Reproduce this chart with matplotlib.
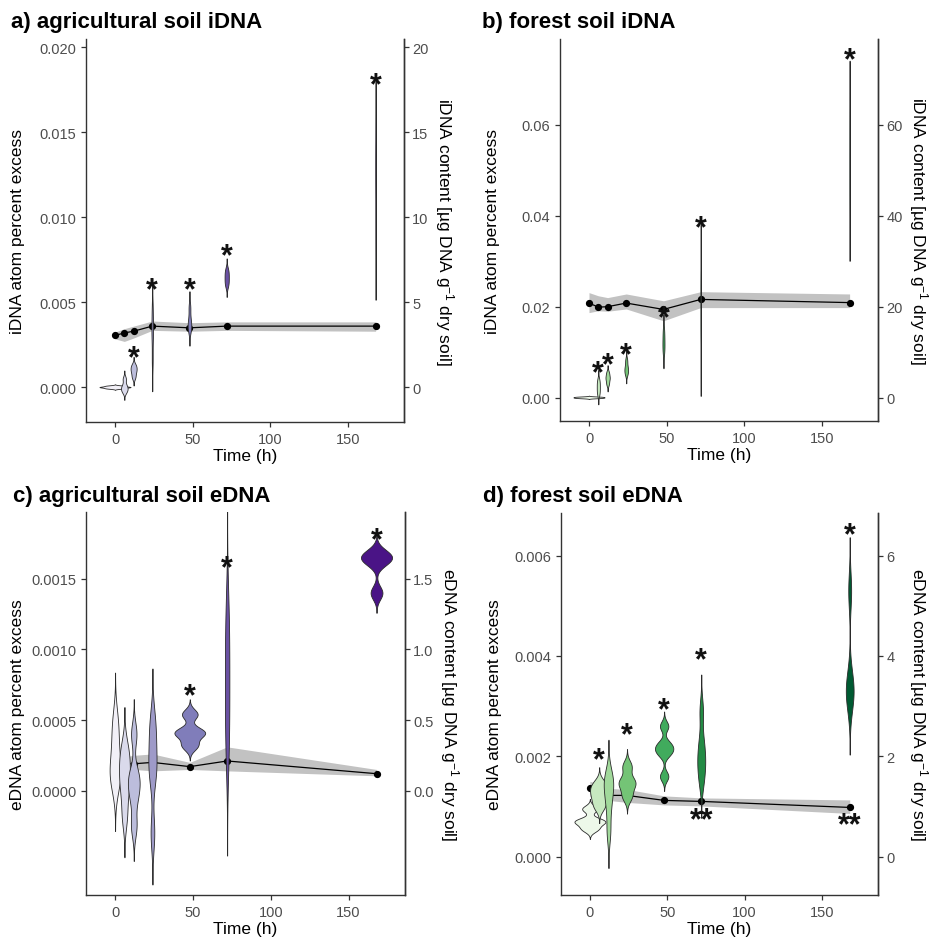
import numpy as np
import matplotlib
matplotlib.use("Agg")
import matplotlib.pyplot as plt

plt.rcParams['font.family'] = ['Liberation Sans', 'DejaVu Sans']
plt.rcParams['mathtext.fontset'] = 'custom'
plt.rcParams['mathtext.rm'] = 'Liberation Sans'
plt.rcParams['mathtext.it'] = 'Liberation Sans:italic'
plt.rcParams['mathtext.bf'] = 'Liberation Sans:bold'

# ---------------- data ----------------
times = [0, 6, 12, 24, 48, 72, 168]

# a) agricultural soil iDNA : atom percent excess replicates per time
a_samples = [
    [-0.00006, 0.0, 0.00003, 0.00009],
    [-0.00025, -0.00008, 0.0001, 0.0005],
    [0.0006, 0.0009, 0.0011, 0.0013],
    [0.0016, 0.0030, 0.0036, 0.0046],
    [0.0034, 0.0036, 0.0040, 0.0047],
    [0.0060, 0.0063, 0.0066, 0.0069],
    [0.0090, 0.0115, 0.0130, 0.0146],
]
a_content_mean = [3.05, 3.2, 3.3, 3.6, 3.5, 3.6, 3.6]
a_content_lo = [2.85, 2.7, 2.9, 3.35, 3.3, 3.35, 3.3]
a_content_hi = [3.25, 3.45, 3.6, 3.9, 3.8, 3.85, 3.85]
a_star_t = [12, 24, 48, 72, 168]
a_star_y = [0.00229, 0.00627, 0.00627, 0.00824, 0.0183]

# b) forest soil iDNA
b_samples = [
    [-0.0001, 0.0, 0.0001, 0.0002],
    [0.0008, 0.0018, 0.0028, 0.0038],
    [0.0030, 0.0040, 0.0046, 0.0055],
    [0.0052, 0.0060, 0.0068, 0.0082],
    [0.0100, 0.0115, 0.0130, 0.0148],
    [0.0128, 0.0170, 0.0230, 0.0274],
    [0.0435, 0.0490, 0.0550, 0.0607],
]
b_content_mean = [20.8, 19.9, 20.0, 20.8, 19.4, 21.6, 20.9]
b_content_lo = [18.7, 19.1, 19.0, 19.5, 16.9, 19.8, 19.8]
b_content_hi = [23.1, 22.4, 22.0, 22.8, 21.3, 23.3, 22.8]
b_star_t = [5.5, 12, 24, 48, 72, 168]
b_star_y = [0.00734, 0.00918, 0.01138, 0.01945, 0.0393, 0.07636]

# c) agricultural soil eDNA
c_samples = [
    [0.00005, 0.00012, 0.0002, 0.00035, 0.0005],
    [-0.00018, 0.0, 0.0001, 0.0002, 0.0003],
    [-0.00025, -0.00005, 0.00005, 0.00012, 0.0004],
    [-0.0003, 0.0001, 0.0002, 0.00035, 0.0005],
    [0.00032, 0.0004, 0.00042, 0.00054],
    [0.00027, 0.00052, 0.00077, 0.00102, 0.00127],
    [0.0014, 0.00162, 0.00165, 0.00168],
]
c_content_mean = [0.19, 0.19, 0.19, 0.20, 0.17, 0.21, 0.12]
c_content_lo = [0.15, 0.15, 0.15, 0.14, 0.15, 0.14, 0.105]
c_content_hi = [0.23, 0.24, 0.25, 0.26, 0.20, 0.31, 0.15]
c_star_t = [48, 72, 168]
c_star_y = [0.000732, 0.001642, 0.001843]

# d) forest soil eDNA
d_samples = [
    [0.00055, 0.00068, 0.00072, 0.00095],
    [0.0010, 0.00118, 0.00132, 0.00145],
    [0.0005, 0.0010, 0.0013, 0.0015, 0.0016],
    [0.0012, 0.00142, 0.00152, 0.0018],
    [0.0016, 0.00205, 0.00215, 0.00225, 0.0026],
    [0.0015, 0.0018, 0.0020, 0.0023, 0.0029],
    [0.0031, 0.0033, 0.0035, 0.0053],
]
d_content_mean = [1.36, 1.28, 1.22, 1.22, 1.12, 1.10, 0.98]
d_content_lo = [1.20, 1.10, 1.12, 1.08, 1.03, 1.01, 0.86]
d_content_hi = [1.50, 1.45, 1.36, 1.34, 1.21, 1.17, 1.13]
d_star_t = [6, 24, 48, 72, 168]
d_star_y = [0.00211, 0.00261, 0.00311, 0.00411, 0.0066]
d_dstar_t = [72, 168]
d_dstar_y = [0.00091, 0.00081]

purples = ['#f2f0f7', '#dadaeb', '#bcbddc', '#9e9ac8', '#807dba', '#6a51a3', '#4a1486']
greens = ['#edf8e9', '#c7e9c0', '#a1d99b', '#74c476', '#41ab5d', '#238b45', '#005a32']


# ---------------- helpers ----------------
def nrd0(x):
    x = np.asarray(x, float)
    sd = np.std(x, ddof=1)
    q75, q25 = np.percentile(x, [75, 25])
    lo = min(sd, (q75 - q25) / 1.34)
    if lo <= 0:
        lo = sd
    return 0.9 * lo * len(x) ** -0.2


def kde(x, n=512):
    x = np.asarray(x, float)
    bw = nrd0(x)
    grid = np.linspace(x.min() - 3 * bw, x.max() + 3 * bw, n)
    z = (grid[:, None] - x[None, :]) / bw
    dens = np.exp(-0.5 * z ** 2).sum(1) / (len(x) * bw * np.sqrt(2 * np.pi))
    return grid, dens


W, H = 931, 945
fig = plt.figure(figsize=(W / 100, H / 100), dpi=100)

SPINE = '#333333'
TICKLAB = '#4d4d4d'


def make_panel(rect_px, title, title_xy, samples, colors, mean, lo, hi,
               stars_t, stars_y, ylim, yticks, yticklabels, rticks, rticklabels,
               left_label, right_label, lab_x, rlab_px, dstars=None):
    l, r, t, b = rect_px
    ax = fig.add_axes([l / W, 1 - b / H, (r - l) / W, (b - t) / H])
    ax.set_xlim(-18.7, 186.3)
    ax.set_ylim(*ylim)
    # ribbon, line and points (content on secondary scale)
    mean = np.asarray(mean) / 1000.0
    ax.fill_between(times, np.asarray(lo) / 1000.0, np.asarray(hi) / 1000.0,
                    color='#c2c2c2', lw=0, zorder=1)
    ax.plot(times, mean, color='black', lw=0.9, zorder=2)
    ax.plot(times, mean, 'o', color='black', ms=4.2, zorder=3)
    # violins (area-scaled, max half width = 10 h)
    kd = [kde(s) for s in samples]
    dmax = max(d.max() for _, d in kd)
    for tt, (g, d), col in zip(times, kd, colors):
        hw = d / dmax * 10.0
        ax.fill_betweenx(g, tt - hw, tt + hw, facecolor=col, edgecolor='#2a2a2a',
                         lw=0.6, zorder=4)
    fs = 22
    for tt, yy in zip(stars_t, stars_y):
        ax.annotate('*', (tt, yy), xytext=(0, -0.57 * fs), textcoords='offset points',
                    ha='center', va='baseline', fontsize=fs, fontweight='bold',
                    color='#111111', zorder=6)
    if dstars:
        for tt, yy in zip(*dstars):
            ax.annotate('**', (tt, yy), xytext=(0, -0.57 * fs), textcoords='offset points',
                        ha='center', va='baseline', fontsize=fs, fontweight='bold',
                        color='#111111', zorder=6)
    # axes styling
    ax.spines['top'].set_visible(False)
    for s in ['left', 'bottom', 'right']:
        ax.spines[s].set_color(SPINE)
        ax.spines[s].set_linewidth(1.0)
    ax.set_xticks([0, 50, 100, 150])
    ax.set_yticks(yticks)
    ax.set_yticklabels(yticklabels)
    ax.tick_params(colors=SPINE, labelcolor=TICKLAB, labelsize=10.5, length=3.5, width=0.9)
    ax.set_xlabel('Time (h)', fontsize=12.5)
    ax.xaxis.set_label_coords(0.5, -0.068)
    ax.set_ylabel(left_label, fontsize=12.5, rotation=90, va='center', ha='center')
    ax.yaxis.set_label_coords(lab_x, 0.5)
    sec = ax.secondary_yaxis('right', functions=(lambda v: v * 1000.0, lambda v: v / 1000.0))
    sec.set_yticks(rticks)
    sec.set_yticklabels(rticklabels)
    sec.tick_params(colors=SPINE, labelcolor=TICKLAB, labelsize=10.5, length=3.5, width=0.9,
                    pad=2.5)
    sec.spines['right'].set_color(SPINE)
    sec.spines['right'].set_linewidth(1.0)
    fig.text(rlab_px / W, 1 - (t + b) / 2 / H, right_label, fontsize=12.5,
             rotation=270, ha='center', va='center')
    fig.text(title_xy[0] / W, 1 - title_xy[1] / H, title, fontsize=16,
             fontweight='bold', ha='left', va='baseline')
    return ax


i_right = 'iDNA content [µg DNA g$^{-1}$ dry soil]'
e_right = 'eDNA content [µg DNA g$^{-1}$ dry soil]'

make_panel((86, 404, 40, 423), 'a) agricultural soil iDNA', (11, 28), a_samples, purples,
           a_content_mean, a_content_lo, a_content_hi, a_star_t, a_star_y,
           (-0.00204, 0.02049), [0, 0.005, 0.010, 0.015, 0.020],
           ['0.000', '0.005', '0.010', '0.015', '0.020'],
           [0, 5, 10, 15, 20], ['0', '5', '10', '15', '20'],
           'iDNA atom percent excess', i_right, -0.214, 444)

make_panel((560, 878, 40, 422), 'b) forest soil iDNA', (482, 28), b_samples, greens,
           b_content_mean, b_content_lo, b_content_hi, b_star_t, b_star_y,
           (-0.00515, 0.0789), [0, 0.02, 0.04, 0.06],
           ['0.00', '0.02', '0.04', '0.06'],
           [0, 20, 40, 60], ['0', '20', '40', '60'],
           'iDNA atom percent excess', i_right, -0.211, 918)

make_panel((86, 405, 513, 896), 'c) agricultural soil eDNA', (13, 502), c_samples, purples,
           c_content_mean, c_content_lo, c_content_hi, c_star_t, c_star_y,
           (-0.000739, 0.001973), [0, 0.0005, 0.0010, 0.0015],
           ['0.0000', '0.0005', '0.0010', '0.0015'],
           [0, 0.5, 1.0, 1.5], ['0.0', '0.5', '1.0', '1.5'],
           'eDNA atom percent excess', e_right, -0.214, 449)

make_panel((561, 878, 514, 896), 'd) forest soil eDNA', (483, 502), d_samples, greens,
           d_content_mean, d_content_lo, d_content_hi, d_star_t, d_star_y,
           (-0.000766, 0.00685), [0, 0.002, 0.004, 0.006],
           ['0.000', '0.002', '0.004', '0.006'],
           [0, 2, 4, 6], ['0', '2', '4', '6'],
           'eDNA atom percent excess', e_right, -0.211, 918,
           dstars=(d_dstar_t, d_dstar_y))

fig.savefig('out.png', dpi=100)
